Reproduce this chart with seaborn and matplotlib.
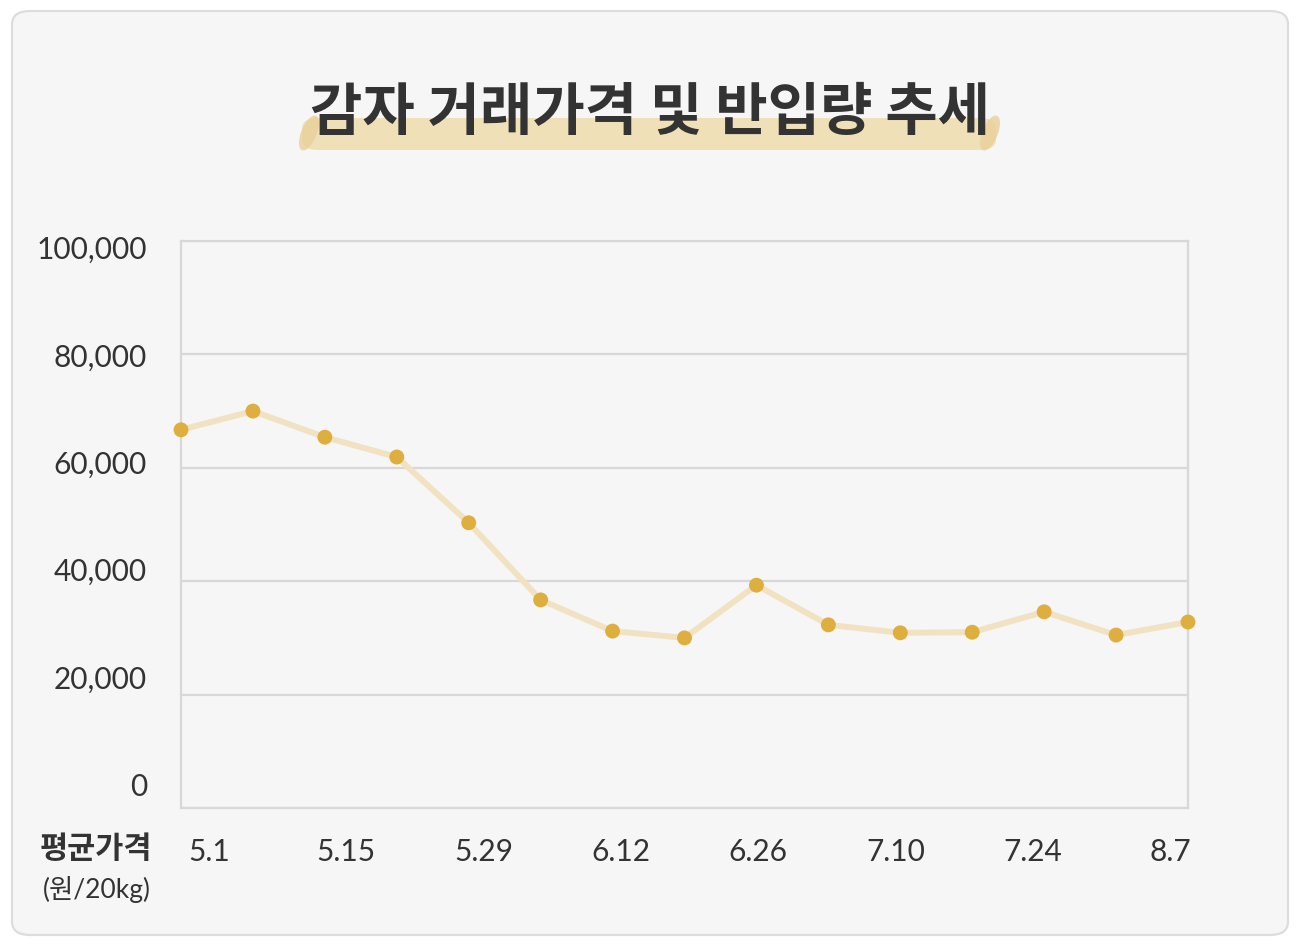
import seaborn as sns
import matplotlib.pyplot as plt
import pandas as pd
import numpy as np
from matplotlib.patches import FancyBboxPatch, Ellipse

# 데이터
dates = ['5.1', '5.8', '5.15', '5.22', '5.29', '6.5', '6.12', '6.19', '6.26',
         '7.3', '7.10', '7.17', '7.24', '7.31', '8.7']
prices = [66700, 70000, 65400, 61900, 50300, 36700, 31200, 30000, 39300,
          32300, 30900, 31000, 34600, 30500, 32800]
tick_labels = ['5.1', '5.15', '5.29', '6.12', '6.26', '7.10', '7.24', '8.7']
y_grid = [0, 20000, 40000, 60000, 80000, 100000]
y_labels = ['0', '20,000', '40,000', '60,000', '80,000', '100,000']

title = '감자 거래가격 및 반입량 추세'

df = pd.DataFrame({'date': dates, 'price': prices})
df['idx'] = np.arange(len(df))

sns.set_style('white')
plt.rcParams['font.family'] = ['Lato', 'Noto Sans CJK KR', 'DejaVu Sans']

W, H = 1300, 947
fig = plt.figure(figsize=(13, 9.47), dpi=100)
fig.patch.set_facecolor('white')

# 카드 배경
card = FancyBboxPatch((12 / W, 12 / H), (1288 - 12) / W, (936 - 12) / H,
                      boxstyle='round,pad=0,rounding_size=0.014',
                      transform=fig.transFigure, facecolor='#f6f6f6',
                      edgecolor='#dddddd', linewidth=1.6, zorder=-2)
fig.patches.append(card)

# 형광펜 효과
hl = FancyBboxPatch((302 / W, (947 - 150) / H), (996 - 302) / W, 32 / H,
                    boxstyle='round,pad=0,rounding_size=0.012',
                    transform=fig.transFigure, facecolor='#f0e0b8',
                    edgecolor='none', zorder=-1)
fig.patches.append(hl)
for cx in (309, 990):
    e = Ellipse((cx / W, (947 - 133) / H), 16 / W, 36 / H, angle=-15,
                transform=fig.transFigure, facecolor='#ead09a',
                edgecolor='none', alpha=0.8, zorder=-1)
    fig.patches.append(e)

fig.text(650 / W, 1 - 113 / H, title, ha='center', va='center',
         fontsize=41, fontweight='bold', color='#333333',
         family=['Noto Sans CJK KR', 'DejaVu Sans'], zorder=3)

ax = fig.add_axes([181 / W, 1 - 808 / H, (1188 - 181) / W, (808 - 241) / H])
ax.set_zorder(2)
ax.set_facecolor('none')

sns.lineplot(data=df, x='idx', y='price', ax=ax, color='#f1e3c2',
             linewidth=4.3, zorder=3)
sns.scatterplot(data=df, x='idx', y='price', ax=ax, color='#deae3f',
                s=115, edgecolor='none', zorder=4, clip_on=False)

ax.set_xlim(0, len(dates) - 1)
ax.set_ylim(0, 100000)
ax.set_yticks(y_grid)
ax.set_yticklabels([])
ax.set_xticks([])
ax.grid(axis='y', color='#d8d8d8', linewidth=1.6)
ax.set_axisbelow(True)
for side in ['left', 'right', 'bottom', 'top']:
    ax.spines[side].set_color('#d8d8d8')
    ax.spines[side].set_linewidth(1.6)
ax.tick_params(length=0)
ax.set_xlabel('')
ax.set_ylabel('')

# y축 라벨 (원본처럼 약간 안쪽으로 모여 있음)
for v, lab in zip(y_grid, y_labels):
    ypix = 787 - v / 100000 * (787 - 250)
    fig.text(147 / W, 1 - ypix / H, lab, ha='right', va='center',
             fontsize=21.5, color='#333333')

# x축 라벨
for xpix, lab in zip(np.linspace(209, 1170, len(tick_labels)), tick_labels):
    fig.text(xpix / W, 1 - 852 / H, lab, ha='center', va='center',
             fontsize=21.5, color='#333333')

fig.text(96 / W, 1 - 849 / H, '평균가격', ha='center', va='center',
         fontsize=22, fontweight='bold', color='#333333',
         family=['Noto Sans CJK KR', 'DejaVu Sans'])
fig.text(97 / W, 1 - 889 / H, '(원/20kg)', ha='center', va='center',
         fontsize=19, color='#333333',
         family=['Lato', 'Noto Sans CJK KR', 'DejaVu Sans'])

fig.savefig('out.png', dpi=100)
